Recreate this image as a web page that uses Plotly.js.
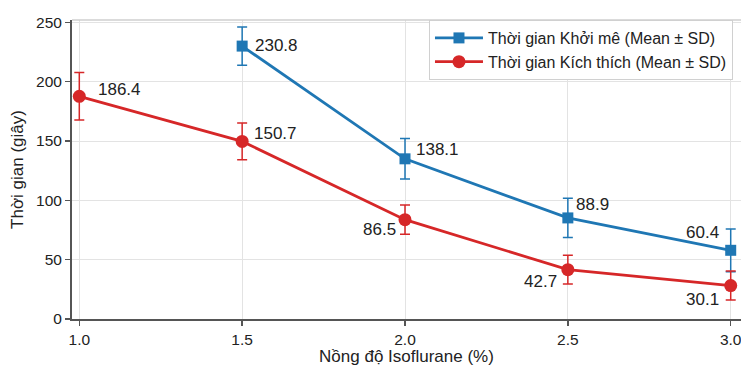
<!DOCTYPE html>
<html>
<head>
<meta charset="utf-8">
<script src="https://cdn.plot.ly/plotly-3.0.1.min.js"></script>
<style>html,body{margin:0;padding:0;background:#fff;}</style>
</head>
<body>
<div id="chart" style="width:741px;height:366px;"></div>
<script>
// Data
const concentrations = [1.0, 1.5, 2.0, 2.5, 3.0];

const inductionX = [1.5, 2.0, 2.5, 3.0];
const inductionMean = [230.0, 135.0, 85.2, 57.9];
const inductionSD = [16.2, 17.1, 16.6, 18.0];
const inductionLabels = ["230.8", "138.1", "88.9", "60.4"];

const excitationX = [1.0, 1.5, 2.0, 2.5, 3.0];
const excitationMean = [187.7, 149.7, 83.7, 41.6, 28.2];
const excitationSD = [20.0, 15.5, 12.3, 12.2, 12.2];
const excitationLabels = ["186.4", "150.7", "86.5", "42.7", "30.1"];

const tickLabels = ["1.0", "1.5", "2.0", "2.5", "3.0"];

const blue = "#1f77b4";
const red = "#d62728";
const font = "Liberation Sans, Arial, sans-serif";

const traces = [
  {
    x: inductionX, y: inductionMean, type: "scatter", mode: "lines+markers",
    name: "Thời gian Khởi mê (Mean ± SD)",
    line: {color: blue, width: 2.8},
    marker: {symbol: "square", size: 11, color: blue},
    error_y: {type: "data", array: inductionSD, visible: true, color: blue, thickness: 1.5, width: 5}
  },
  {
    x: excitationX, y: excitationMean, type: "scatter", mode: "lines+markers",
    name: "Thời gian Kích thích (Mean ± SD)",
    line: {color: red, width: 2.8},
    marker: {symbol: "circle", size: 13, color: red},
    error_y: {type: "data", array: excitationSD, visible: true, color: red, thickness: 1.5, width: 5}
  }
];

// label placement styles (pixel offsets)
const indStyle = [
  {xanchor: "left", xshift: 11, yshift: 1},
  {xanchor: "left", xshift: 9, yshift: 9},
  {xanchor: "left", xshift: 6, yshift: 13},
  {xanchor: "right", xshift: -10, yshift: 18}
];
const excStyle = [
  {xanchor: "left", xshift: 17, yshift: 7},
  {xanchor: "left", xshift: 10, yshift: 8},
  {xanchor: "right", xshift: -7, yshift: -10},
  {xanchor: "right", xshift: -9, yshift: -12},
  {xanchor: "right", xshift: -10, yshift: -14}
];

const annotations = [];
inductionX.forEach((x, i) => {
  annotations.push(Object.assign({
    x: x, y: inductionMean[i], xref: "x", yref: "y", text: inductionLabels[i],
    showarrow: false, yanchor: "middle", font: {family: font, size: 17, color: "#222"}
  }, indStyle[i]));
});
excitationX.forEach((x, i) => {
  annotations.push(Object.assign({
    x: x, y: excitationMean[i], xref: "x", yref: "y", text: excitationLabels[i],
    showarrow: false, yanchor: "middle", font: {family: font, size: 17, color: "#222"}
  }, excStyle[i]));
});

const layout = {
  width: 741, height: 366,
  margin: {l: 72, r: 0, t: 20, b: 47, pad: 0},
  paper_bgcolor: "#fff", plot_bgcolor: "#fff",
  font: {family: font, color: "#222"},
  showlegend: true,
  legend: {
    x: 0.5336, y: 1, xanchor: "left", yanchor: "top",
    bgcolor: "#fff", bordercolor: "#d0d0d0", borderwidth: 1,
    font: {family: font, size: 16, color: "#222"},
    itemwidth: 48,
    tracegroupgap: 0
  },
  xaxis: {
    range: [0.9776, 3.0316],
    tickvals: concentrations, ticktext: tickLabels,
    showgrid: true, gridcolor: "#e3e3e3", gridwidth: 1,
    zeroline: false, automargin: false, ticklabeloverflow: "allow",
    showline: true, linecolor: "#555", linewidth: 2,
    ticks: "outside", ticklen: 5, tickcolor: "#555", tickwidth: 1.5,
    tickfont: {family: font, size: 15.5, color: "#222"},
    title: {text: "Nồng độ Isoflurane (%)", font: {family: font, size: 17, color: "#222"}, standoff: 3}
  },
  yaxis: {
    range: [0, 252],
    tickvals: [0, 50, 100, 150, 200, 250],
    showgrid: true, gridcolor: "#e3e3e3", gridwidth: 1,
    zeroline: false, automargin: false,
    showline: true, linecolor: "#555", linewidth: 2,
    ticks: "outside", ticklen: 5, tickcolor: "#555", tickwidth: 1.5,
    tickfont: {family: font, size: 15.5, color: "#222"},
    title: {text: "Thời gian (giây)", font: {family: font, size: 17, color: "#222"}, standoff: 8}
  },
  shapes: [
    {type: "line", xref: "paper", yref: "paper", x0: 0, x1: 1, y0: 1, y1: 1,
     line: {color: "#cfcfcf", width: 1.5}}
  ],
  annotations: annotations
};

Plotly.newPlot("chart", traces, layout, {displayModeBar: false, staticPlot: true});
</script>
</body>
</html>
